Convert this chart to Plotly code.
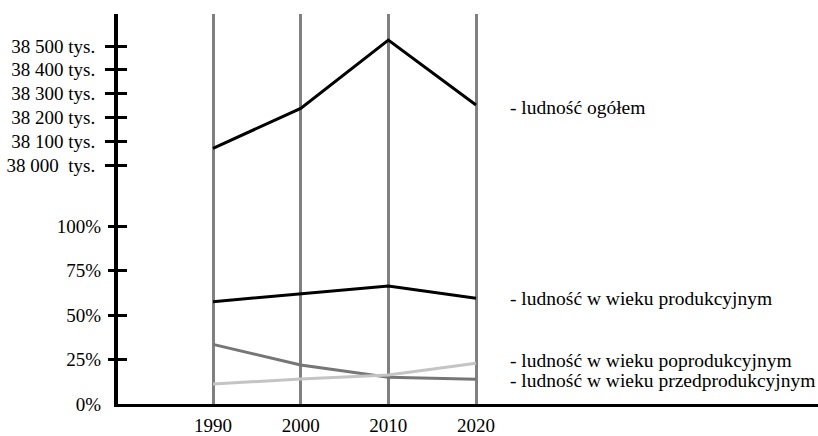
import plotly.graph_objects as go

# ---- data ----
years = [1990, 2000, 2010, 2020]
ludnosc_ogolem = [38070, 38238, 38525, 38252]          # tys.
produkcyjny = [57.5, 61.8, 66.3, 59.4]                 # %
przedprodukcyjny = [33.5, 21.9, 15.0, 13.9]            # %
poprodukcyjny = [11.2, 14.0, 16.3, 22.9]               # %

pop_ticks = [38000, 38100, 38200, 38300, 38400, 38500]
pop_ticklabels = ["38\u00a0000\u00a0\u00a0tys.", "38 100 tys.", "38 200 tys.",
                  "38 300 tys.", "38 400 tys.", "38 500 tys."]
pct_ticks = [0, 25, 50, 75, 100]
pct_ticklabels = ["0%", "25%", "50%", "75%", "100%"]
pct_tickmarks = [25, 50, 75, 100]

labels = {
    "ogolem": "- ludność ogółem",
    "prod": "- ludność w wieku produkcyjnym",
    "poprod": "- ludność w wieku poprodukcyjnym",
    "przed": "- ludność w wieku przedprodukcyjnym",
}

W, H = 818, 436
FONT = "Liberation Serif"


def fy(py):
    return 1 - py / H


fig = go.Figure()

fig.add_trace(go.Scatter(x=years, y=ludnosc_ogolem, mode="lines",
                         line=dict(color="#000000", width=3),
                         xaxis="x", yaxis="y", showlegend=False, hoverinfo="skip"))
fig.add_trace(go.Scatter(x=years, y=produkcyjny, mode="lines",
                         line=dict(color="#000000", width=3),
                         xaxis="x", yaxis="y2", showlegend=False, hoverinfo="skip"))
fig.add_trace(go.Scatter(x=years, y=przedprodukcyjny, mode="lines",
                         line=dict(color="#767676", width=3),
                         xaxis="x", yaxis="y2", showlegend=False, hoverinfo="skip"))
fig.add_trace(go.Scatter(x=years, y=poprodukcyjny, mode="lines",
                         line=dict(color="#c4c4c4", width=3),
                         xaxis="x", yaxis="y2", showlegend=False, hoverinfo="skip"))
# empty traces so that the tick-mark overlay axes get drawn
for ax in ["y3", "y4", "y5"]:
    fig.add_trace(go.Scatter(x=[None], y=[None], xaxis="x", yaxis=ax,
                             mode="lines", showlegend=False, hoverinfo="skip"))

pop_range = [37852.94, 38634.45]
pct_range = [0, 114.61]

tickfont = dict(family=FONT, size=19, color="#000000")

fig.update_layout(
    width=W, height=H,
    margin=dict(l=0, r=0, t=0, b=0),
    paper_bgcolor="white", plot_bgcolor="white",
    showlegend=False,
    xaxis=dict(
        domain=[118 / W, 1], range=[1979.163, 2059.01],
        anchor="y2", tickmode="array", tickvals=years,
        ticktext=[str(y) for y in years],
        showgrid=True, gridcolor="#808080", gridwidth=2.5,
        showline=True, linecolor="#000000", linewidth=3,
        ticks="", tickfont=tickfont, ticklabelstandoff=2,
        zeroline=False, automargin=False, fixedrange=True,
    ),
    yaxis=dict(
        domain=[fy(200), fy(14)], range=pop_range, anchor="x",
        tickmode="array", tickvals=pop_ticks, ticktext=pop_ticklabels,
        showgrid=False, zeroline=False,
        showline=True, linecolor="#000000", linewidth=4,
        ticks="outside", ticklen=9, tickwidth=3, tickcolor="#000000",
        tickfont=tickfont, ticklabelstandoff=6, automargin=False,
    ),
    yaxis3=dict(
        overlaying="y", range=pop_range, anchor="x", side="left",
        tickmode="array", tickvals=pop_ticks, showticklabels=False,
        showgrid=False, zeroline=False, showline=False,
        ticks="inside", ticklen=9, tickwidth=3, tickcolor="#000000",
        automargin=False,
    ),
    yaxis2=dict(
        domain=[fy(404), fy(200)], range=pct_range, anchor="x",
        tickmode="array", tickvals=pct_ticks, ticktext=pct_ticklabels,
        showgrid=False, zeroline=False,
        showline=True, linecolor="#000000", linewidth=4,
        ticks="", tickfont=tickfont, ticklabelstandoff=9, automargin=False,
    ),
    yaxis4=dict(
        overlaying="y2", range=pct_range, anchor="x", side="left",
        tickmode="array", tickvals=pct_tickmarks, showticklabels=False,
        showgrid=False, zeroline=False, showline=False,
        ticks="outside", ticklen=9, tickwidth=3, tickcolor="#000000",
        automargin=False,
    ),
    yaxis5=dict(
        overlaying="y2", range=pct_range, anchor="x", side="left",
        tickmode="array", tickvals=pct_tickmarks, showticklabels=False,
        showgrid=False, zeroline=False, showline=False,
        ticks="inside", ticklen=9, tickwidth=3, tickcolor="#000000",
        automargin=False,
    ),
)

ann_font = dict(family=FONT, size=19.5, color="#000000")
for text, yval, yref, ysh in [
    (labels["ogolem"], ludnosc_ogolem[-1], "y", -2),
    (labels["prod"], produkcyjny[-1], "y2", 0),
    (labels["poprod"], poprodukcyjny[-1], "y2", 3),
    (labels["przed"], przedprodukcyjny[-1], "y2", -1),
]:
    fig.add_annotation(x=years[-1], y=yval, xref="x", yref=yref, text=text,
                       showarrow=False, xanchor="left", yanchor="middle",
                       xshift=32, yshift=ysh, font=ann_font)

fig.write_html("out.html", config={"displayModeBar": False},
               post_script="document.body.style.margin='0';")
